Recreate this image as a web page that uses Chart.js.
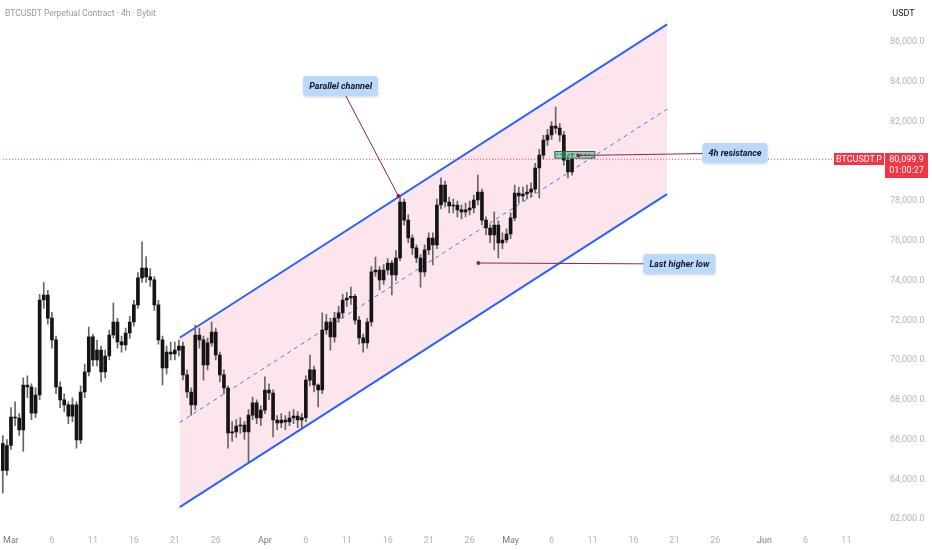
<!DOCTYPE html>
<html>
<head>
<meta charset="utf-8">
<title>BTCUSDT 4h</title>
<script src="https://cdn.jsdelivr.net/npm/chart.js@4.4.1/dist/chart.umd.min.js"></script>
<style>
  html, body { margin: 0; padding: 0; background: #fff; }
  #wrap { width: 932px; height: 550px; }
</style>
</head>
<body>
<div id="wrap"><canvas id="chart" width="932" height="550"></canvas></div>
<script>
// 12h candles; the first one opens Feb 28 00:00
// x values are days counted from Mar 1
const startDay = -1;
const stepDay = 0.5;

const opens = [
  65800, 64450, 65700, 67130, 67080, 66480, 68740, 68640, 67330, 68240,
  73020, 73270, 72110, 71010, 68640, 67990, 67740, 67180, 67740, 65980,
  68390, 69400, 71160, 70000, 70500, 69400, 70200, 71260, 71910, 70910,
  70760, 71360, 71910, 72770, 74130, 74630, 74180, 74030, 72770, 71010,
  69600, 70400, 70300, 70500, 70700, 69250, 68390, 67740, 71260, 71010,
  69750, 70860, 71410, 70250, 69250, 68590, 66330, 66380, 66680, 66730,
  66380, 67230, 67840, 67080, 67480, 68490, 68340, 66980, 66830, 66980,
  66880, 67080, 67180, 66980, 67100, 68990, 69500, 68740, 68490, 71510,
  71910, 71160, 72110, 72370, 73020, 73120, 73200, 72010, 71110, 70860,
  71910, 74430, 74530, 74030, 74530, 74880, 74280, 75130, 77950, 77040,
  76140, 75640, 75130, 74430, 75540, 76140, 75790, 77800, 78800, 77950,
  77750, 77800, 77550, 77450, 77550, 77650, 78050, 78450, 77040, 76640,
  76290, 76790, 75890, 76040, 76340, 77150, 78400, 78250, 78350, 78450,
  78600, 79660, 80310, 81070, 81320, 81770, 81670, 81320, 80060, 79460
];
const closes = [
  64450, 65700, 67130, 67080, 66480, 68740, 68640, 67330, 68240, 73020,
  73270, 72110, 71010, 68640, 67990, 67740, 67180, 67740, 65980, 68390,
  69400, 71160, 70000, 70500, 69400, 70200, 71260, 71910, 70910, 70760,
  71360, 71910, 72770, 74130, 74630, 74180, 74030, 72770, 71010, 69600,
  70400, 70300, 70500, 70700, 69250, 68390, 67740, 71260, 71010, 69750,
  70860, 71410, 70250, 69250, 68590, 66330, 66380, 66680, 66730, 66380,
  67230, 67840, 67080, 67480, 68490, 68340, 66980, 66830, 66980, 66880,
  67080, 67180, 66980, 67100, 68990, 69500, 68740, 68490, 71510, 71910,
  71160, 72110, 72370, 73020, 73120, 73200, 72010, 71110, 70860, 71910,
  74430, 74530, 74030, 74530, 74880, 74280, 75130, 77950, 77040, 76140,
  75640, 75130, 74430, 75540, 76140, 75790, 77800, 78800, 77950, 77750,
  77800, 77550, 77450, 77550, 77650, 78050, 78450, 77040, 76640, 76290,
  76790, 75890, 76040, 76340, 77150, 78400, 78250, 78350, 78450, 78600,
  79660, 80310, 81070, 81320, 81770, 81670, 81320, 80060, 79460, 80099.9
];
const highs = [
  66200, 66000, 67600, 67900, 67300, 69100, 69200, 68800, 68600, 73300,
  73900, 73500, 72400, 71200, 68900, 68300, 67900, 68100, 67900, 68700,
  69800, 71660, 71300, 71000, 70700, 70500, 71500, 72870, 72100, 71200,
  71600, 72200, 73000, 74400, 75940, 75200, 74600, 74200, 73000, 71200,
  70700, 70900, 70900, 71000, 70900, 69500, 68600, 71760, 71600, 71200,
  71100, 71910, 71600, 70400, 69500, 68700, 66900, 67000, 67100, 66900,
  67500, 68140, 68000, 67700, 69150, 68800, 68500, 67200, 67300, 67200,
  67400, 67500, 67400, 67300, 69200, 70250, 69700, 68800, 72370, 72300,
  72100, 72400, 72700, 73300, 73400, 73670, 73300, 72200, 71300, 72100,
  74700, 75180, 74700, 74800, 75100, 75000, 75500, 78250, 78100, 77300,
  76300, 75800, 75300, 75800, 76400, 76400, 78100, 79160, 79000, 78200,
  78100, 78000, 77800, 77900, 78000, 78300, 79310, 78600, 77200, 76800,
  77450, 77000, 76400, 76600, 77400, 78800, 78700, 78700, 78800, 78910,
  79900, 80600, 81300, 81600, 82000, 82730, 81900, 81500, 80300, 80400
];
const lows = [
  63300, 64200, 65500, 66700, 66200, 65400, 68100, 67000, 67100, 68000,
  72600, 71800, 70600, 68300, 67600, 67400, 66800, 66900, 65570, 65800,
  68100, 69200, 69700, 69700, 68900, 69100, 70000, 71100, 70600, 70400,
  70500, 71100, 71700, 72600, 73900, 73900, 73700, 72500, 70800, 68750,
  69300, 70000, 70000, 70200, 69000, 68100, 67230, 67500, 70600, 68990,
  69500, 70700, 70000, 68900, 68300, 65570, 65900, 66100, 66300, 66000,
  64870, 67000, 66800, 66700, 67300, 68000, 66130, 66500, 66600, 66500,
  66700, 66800, 66600, 66600, 66900, 68700, 68400, 67640, 68300, 71300,
  70500, 70900, 71900, 72100, 72700, 72800, 71800, 70800, 70400, 70600,
  71700, 74200, 73520, 73800, 74300, 73270, 74000, 75000, 76800, 75900,
  75300, 74900, 73670, 74200, 75300, 74780, 75600, 77600, 77700, 77400,
  77400, 77200, 77100, 77200, 77300, 77400, 77800, 76800, 76300, 75900,
  75540, 75130, 75600, 75900, 76100, 77000, 77900, 78000, 78100, 78200,
  78400, 78150, 80100, 80800, 81100, 81400, 81000, 79800, 79160, 79300
];

const lastPrice = 80099.9;

// time axis: Mar 1, 6, 11 ... Jun 11 as day offsets
const tickDays = [0, 5, 10, 15, 20, 25, 31, 36, 41, 46, 51, 56, 61, 66, 71, 76, 81, 86, 92, 97, 102];
const tickLabels = ['Mar', '6', '11', '16', '21', '26', 'Apr', '6', '11', '16', '21', '26',
                    'May', '6', '11', '16', '21', '26', 'Jun', '6', '11'];
const priceTicks = [62000, 64000, 66000, 68000, 70000, 72000, 74000, 76000,
                    78000, 80000, 82000, 84000, 86000];

// parallel channel, from Mar 21 to May 20
const channelDays = [20.6, 80.1];
const channelUpper = [71120, 86890];
const channelMid = [66860, 82620];
const channelLower = [62600, 78350];

// 4h resistance box
const zoneDays = [66.34, 71.22];
const zonePrices = [80180, 80516];

const callouts = [
  { text: 'Parallel channel', day: 47.3, price: 78250, boxDay: 40.24, boxPrice: 83790 },
  { text: '4h resistance', day: 69.27, price: 80290, boxDay: 88.4, boxPrice: 80410 },
  { text: 'Last higher low', day: 57.07, price: 74880, boxDay: 81.6, boxPrice: 74830 }
];

// where the screenshot puts things: 86,000 at y=42, 62,000 at y=519, Mar 1 at x=10, 8.2px a day
const yRef = { price: 86000, px: 42, perPx: 24000 / 477 };
const xRef = { day: 0, px: 10, pxPerDay: 8.2 };

const candleDays = closes.map((_, i) => startDay + i * stepDay);
const bodyData = closes.map((c, i) => ({ x: candleDays[i], y: [opens[i], c] }));
const wickData = closes.map((_, i) => ({ x: candleDays[i], y: [lows[i], highs[i]] }));
const line = (days, prices) => days.map((d, i) => ({ x: d, y: prices[i] }));

const overlay = {
  id: 'overlay',
  afterDatasetsDraw(chart) {
    const { ctx, scales: { x, y } } = chart;
    ctx.save();

    // resistance zone
    const zx0 = x.getPixelForValue(zoneDays[0]), zx1 = x.getPixelForValue(zoneDays[1]);
    const zy0 = y.getPixelForValue(zonePrices[1]), zy1 = y.getPixelForValue(zonePrices[0]);
    ctx.fillStyle = 'rgba(60,180,130,0.55)';
    ctx.fillRect(zx0, zy0, zx1 - zx0, zy1 - zy0);
    ctx.strokeStyle = '#2a6b52';
    ctx.lineWidth = 1;
    ctx.strokeRect(zx0 + 0.5, zy0 + 0.5, zx1 - zx0, zy1 - zy0);
    ctx.setLineDash([2, 2]);
    ctx.beginPath();
    ctx.moveTo(zx0 + 2, (zy0 + zy1) / 2);
    ctx.lineTo(zx1 - 2, (zy0 + zy1) / 2);
    ctx.stroke();
    ctx.setLineDash([]);

    // callouts
    callouts.forEach(c => {
      const px = x.getPixelForValue(c.day), py = y.getPixelForValue(c.price);
      const bx = x.getPixelForValue(c.boxDay), by = y.getPixelForValue(c.boxPrice);
      ctx.strokeStyle = '#8e2451';
      ctx.lineWidth = 1;
      ctx.beginPath();
      ctx.moveTo(px, py);
      ctx.lineTo(bx, by);
      ctx.stroke();
      ctx.fillStyle = '#8e2451';
      ctx.beginPath();
      ctx.arc(px, py, 2, 0, Math.PI * 2);
      ctx.fill();

      ctx.font = 'italic bold 9px Roboto';
      const w = ctx.measureText(c.text).width + 12, h = 20;
      ctx.save();
      ctx.shadowColor = 'rgba(0,0,0,0.18)';
      ctx.shadowBlur = 3;
      ctx.shadowOffsetY = 1;
      ctx.fillStyle = '#bbd9fb';
      ctx.beginPath();
      ctx.roundRect(bx - w / 2, by - h / 2, w, h, 3);
      ctx.fill();
      ctx.restore();
      ctx.fillStyle = '#131722';
      ctx.textAlign = 'center';
      ctx.textBaseline = 'middle';
      ctx.fillText(c.text, bx, by + 0.5);
    });
    ctx.restore();
  },
  afterDraw(chart) {
    const { ctx, scales: { y } } = chart;
    const W = chart.width;
    const py = Math.round(y.getPixelForValue(lastPrice));
    ctx.save();
    ctx.textBaseline = 'middle';

    // symbol and last price tags
    ctx.fillStyle = '#f23645';
    ctx.fillRect(W - 98, py - 6, 50, 12);
    ctx.fillRect(W - 47, py - 6, 43, 25);
    ctx.fillStyle = '#fff';
    ctx.font = '9px Roboto';
    ctx.textAlign = 'center';
    ctx.fillText('BTCUSDT.P', W - 73, py + 0.5);
    ctx.fillText('80,099.9', W - 25.5, py + 0.5);
    ctx.fillText('01:00:27', W - 25.5, py + 12);

    // header
    ctx.fillStyle = '#131722';
    ctx.fillText('USDT', W - 28.5, 13.5);
    ctx.textAlign = 'left';
    ctx.fillStyle = '#9598a1';
    ctx.font = '8.5px Roboto';
    ctx.fillText('BTCUSDT Perpetual Contract \u00b7 4h \u00b7 Bybit', 5, 13.5);
    ctx.restore();
  }
};

Chart.defaults.font.family = 'Roboto';

const chart = new Chart(document.getElementById('chart'), {
  type: 'bar',
  data: {
    datasets: [
      { type: 'bar', data: bodyData, backgroundColor: '#141414', barThickness: 3,
        grouped: false, minBarLength: 1, order: 0 },
      { type: 'bar', data: wickData, backgroundColor: '#666', barThickness: 1,
        grouped: false, order: 1 },
      { type: 'line', data: line([-20, 140], [lastPrice, lastPrice]), borderColor: '#f23645',
        borderWidth: 1, borderDash: [1, 2], pointRadius: 0, order: 2 },
      { type: 'line', data: line(channelDays, channelUpper), borderColor: '#2962ff', borderWidth: 2,
        pointRadius: 0, fill: 5, backgroundColor: 'rgba(242,54,110,0.13)', order: 5 },
      { type: 'line', data: line(channelDays, channelMid), borderColor: '#4a72f0', borderWidth: 1,
        borderDash: [4, 4], pointRadius: 0, order: 4 },
      { type: 'line', data: line(channelDays, channelLower), borderColor: '#2962ff', borderWidth: 2,
        pointRadius: 0, order: 3 }
    ]
  },
  options: {
    responsive: false,
    animation: false,
    devicePixelRatio: 1,
    layout: { padding: 0 },
    plugins: { legend: { display: false }, tooltip: { enabled: false } },
    scales: {
      x: {
        type: 'linear', min: -1.22, max: 104.4, offset: false, bounds: 'data',
        grid: { display: false, drawTicks: true, tickLength: 7 },
        border: { display: false },
        afterBuildTicks: s => { s.ticks = tickDays.map(v => ({ value: v })); },
        afterFit: s => { s.height = 22; },
        ticks: {
          autoSkip: false, maxRotation: 0, minRotation: 0, padding: 0,
          font: { size: 9 },
          color: c => isNaN(+tickLabels[c.index]) ? '#787b86' : '#b2b5be',
          callback: (v, i) => tickLabels[i]
        }
      },
      y: {
        type: 'linear', position: 'right', min: 61547, max: 88113, bounds: 'data',
        grid: { display: false, drawTicks: true, tickLength: 24 },
        border: { display: false },
        afterBuildTicks: s => { s.ticks = priceTicks.map(v => ({ value: v })); },
        afterFit: s => { s.width = 66; },
        ticks: {
          padding: 0,
          font: { size: 9 },
          color: '#b2b5be',
          callback: v => v.toLocaleString('en-US', { minimumFractionDigits: 1, maximumFractionDigits: 1 })
        }
      }
    }
  },
  plugins: [overlay]
});

// pin both scales to the screenshot's price / time spacing for the chart area we got
const area = chart.chartArea;
chart.options.scales.y.max = yRef.price + (yRef.px - area.top) * yRef.perPx;
chart.options.scales.y.min = yRef.price - (area.bottom - yRef.px) * yRef.perPx;
chart.options.scales.x.min = xRef.day + (area.left - xRef.px) / xRef.pxPerDay;
chart.options.scales.x.max = xRef.day + (area.right - xRef.px) / xRef.pxPerDay;
chart.update();
</script>
</body>
</html>
